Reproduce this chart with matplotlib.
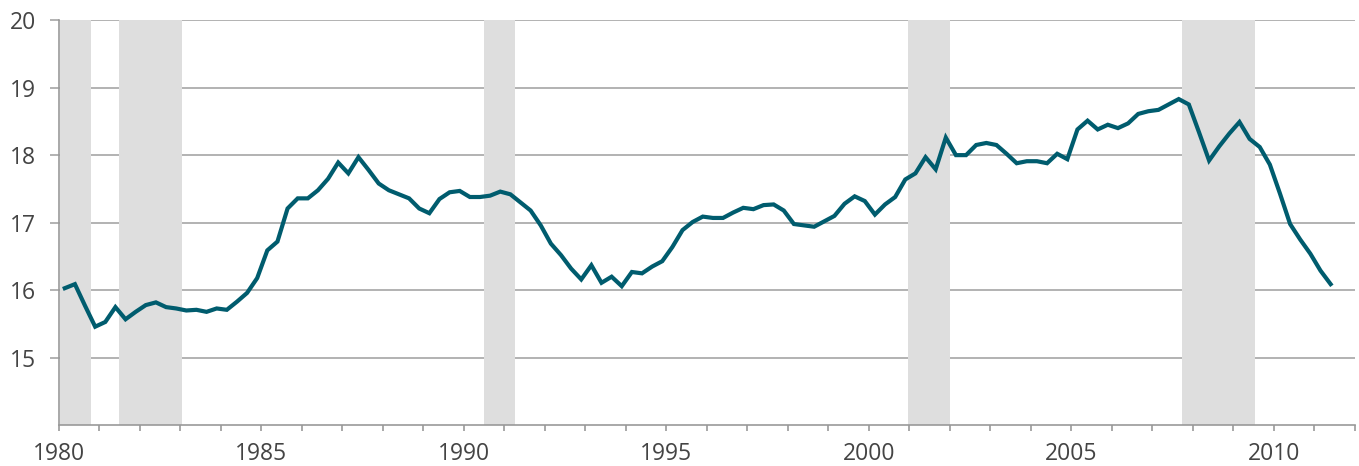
import numpy as np
import matplotlib.pyplot as plt
from matplotlib.ticker import MultipleLocator

# Quarterly series, 1980Q1 .. 2011Q2
start_year = 1980
values = [
    16.03, 16.09, 15.77, 15.46,  # 1980
    15.53, 15.75, 15.57, 15.68,  # 1981
    15.78, 15.82, 15.75, 15.73,  # 1982
    15.70, 15.71, 15.68, 15.73,  # 1983
    15.71, 15.83, 15.96, 16.18,  # 1984
    16.59, 16.72, 17.21, 17.36,  # 1985
    17.36, 17.48, 17.65, 17.89,  # 1986
    17.73, 17.97, 17.78, 17.58,  # 1987
    17.48, 17.42, 17.36, 17.21,  # 1988
    17.14, 17.35, 17.45, 17.47,  # 1989
    17.38, 17.38, 17.40, 17.46,  # 1990
    17.42, 17.30, 17.18, 16.96,  # 1991
    16.69, 16.52, 16.32, 16.16,  # 1992
    16.37, 16.11, 16.20, 16.06,  # 1993
    16.27, 16.25, 16.35, 16.43,  # 1994
    16.64, 16.89, 17.01, 17.09,  # 1995
    17.07, 17.07, 17.15, 17.22,  # 1996
    17.20, 17.26, 17.27, 17.18,  # 1997
    16.98, 16.96, 16.94, 17.02,  # 1998
    17.10, 17.28, 17.39, 17.32,  # 1999
    17.12, 17.27, 17.38, 17.64,  # 2000
    17.73, 17.97, 17.79, 18.26,  # 2001
    18.00, 18.00, 18.15, 18.18,  # 2002
    18.15, 18.02, 17.88, 17.91,  # 2003
    17.91, 17.88, 18.02, 17.94,  # 2004
    18.38, 18.51, 18.38, 18.45,  # 2005
    18.40, 18.47, 18.61, 18.65,  # 2006
    18.67, 18.75, 18.83, 18.75,  # 2007
    18.34, 17.92, 18.13, 18.32,  # 2008
    18.49, 18.24, 18.12, 17.86,  # 2009
    17.43, 16.98, 16.75, 16.54,  # 2010
    16.29, 16.09,                # 2011
]

# recession periods (shaded)
recessions = [
    (1980.04, 1980.79),
    (1981.50, 1983.05),
    (1990.50, 1991.27),
    (2000.97, 2002.00),
    (2007.73, 2009.54),
]

y_ticks = [15, 16, 17, 18, 19, 20]
x_labels = [1980, 1985, 1990, 1995, 2000, 2005, 2010]

dates = start_year + 0.15 + 0.25 * np.arange(len(values))

plt.rcParams['font.family'] = ['Open Sans', 'DejaVu Sans']

fig = plt.figure(figsize=(13.59, 4.66), dpi=100)
ax = fig.add_axes([0.0432, 0.0873, 0.9538, 0.8697])

for a, b in recessions:
    ax.axvspan(a, b, color='#dedede', lw=0, zorder=1)

ax.plot(dates, values, color='#005c6e', lw=3.0, zorder=3,
        solid_joinstyle='miter')

ax.set_xlim(1980, 2012)
ax.set_ylim(14, 20)
ax.set_yticks(y_ticks)
ax.yaxis.grid(True, color='#a6a6a6', lw=1.2)
ax.set_axisbelow(True)

ax.xaxis.set_major_locator(MultipleLocator(1))
ax.set_xticks(np.arange(1980, 2013), labels=[
    str(y) if y in x_labels else '' for y in range(1980, 2013)])

for s in ['top', 'right']:
    ax.spines[s].set_visible(False)
for s in ['left', 'bottom']:
    ax.spines[s].set_color('#999999')
    ax.spines[s].set_linewidth(1.2)

ax.tick_params(axis='y', length=6.3, width=1.2, color='#a6a6a6',
               pad=10, labelsize=16.5, labelcolor='#444444')
ax.tick_params(axis='x', length=4, width=1.2, color='#999999',
               pad=8, labelsize=16.5, labelcolor='#444444')

fig.savefig('out.png', dpi=100)
